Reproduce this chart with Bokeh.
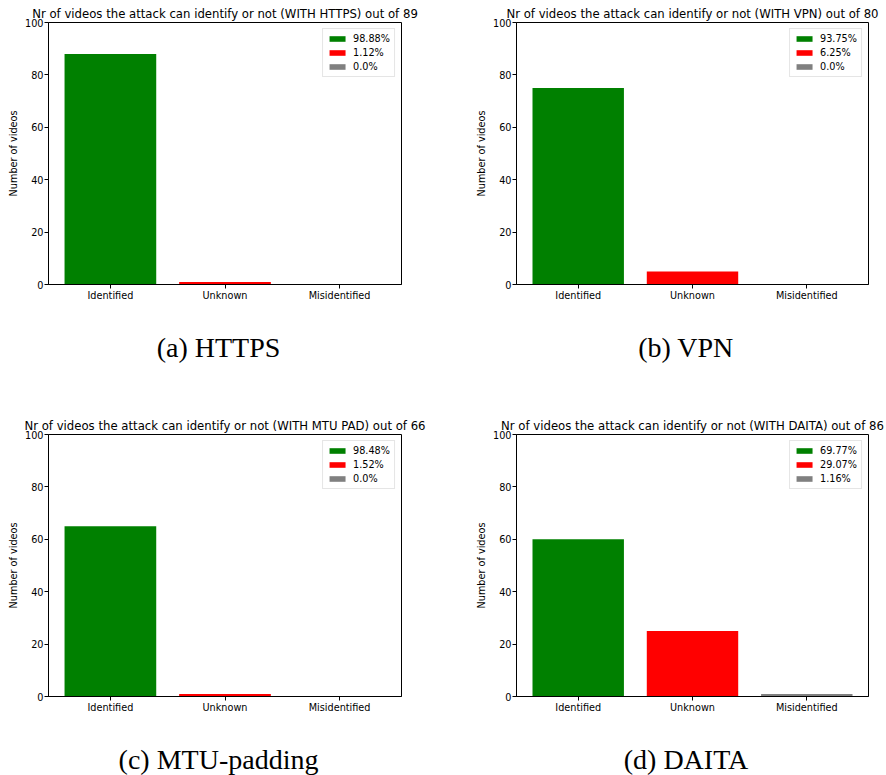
from bokeh.plotting import figure
from bokeh.layouts import column, row
from bokeh.models import Range1d, FixedTicker, Legend, LegendItem, Label, ColumnDataSource
from bokeh.embed import file_html
from bokeh.resources import INLINE

# ---- data ----
categories = ["Identified", "Unknown", "Misidentified"]
bar_colors = ["#008000", "#ff0000", "#808080"]
y_ticks = [0, 20, 40, 60, 80, 100]

https_counts = [88, 1, 0]
https_pcts = ["98.88%", "1.12%", "0.0%"]
vpn_counts = [75, 5, 0]
vpn_pcts = ["93.75%", "6.25%", "0.0%"]
mtu_counts = [65, 1, 0]
mtu_pcts = ["98.48%", "1.52%", "0.0%"]
daita_counts = [60, 25, 1]
daita_pcts = ["69.77%", "29.07%", "1.16%"]

totals = [89, 80, 66, 86]
setups = ["HTTPS", "VPN", "MTU PAD", "DAITA"]
captions = ["(a) HTTPS", "(b) VPN", "(c) MTU-padding", "(d) DAITA"]

SANS = "DejaVu Sans"
SERIF = "Liberation Serif"

W = 443          # width of each panel column
PLOT_H = 310     # height of each chart figure
BORDERS = [(48, 42), (73, 18)]   # (left, right) frame borders per column


def make(counts, pcts, total, setup, left, right):
    p = figure(width=W, height=PLOT_H,
               x_range=Range1d(-0.54, 2.54), y_range=Range1d(0, 100),
               output_backend="svg", toolbar_location=None,
               min_border_left=left, min_border_right=right,
               min_border_top=22, min_border_bottom=PLOT_H - 284)
    p.background_fill_color = "white"
    p.border_fill_color = "white"
    p.outline_line_color = "black"
    p.outline_line_width = 1
    p.xgrid.visible = False
    p.ygrid.visible = False

    p.title.text = f"Nr of videos the attack can identify or not (WITH {setup}) out of {total}"
    p.title.align = "center"
    p.title.text_font = SANS
    p.title.text_font_style = "normal"
    p.title.text_font_size = "11.7px"
    p.title.text_color = "black"
    p.title.standoff = 3

    xs = list(range(len(categories)))
    items = []
    for i, cat in enumerate(categories):
        src = ColumnDataSource(dict(x=[xs[i]], top=[counts[i]]))
        r = p.vbar(x="x", top="top", bottom=0, width=0.8, source=src,
                   fill_color=bar_colors[i], line_color=None)
        items.append(LegendItem(label=pcts[i], renderers=[r]))

    leg = Legend(items=items, location="top_right")
    leg.label_text_font = SANS
    leg.label_text_font_size = "9.7px"
    leg.label_text_color = "black"
    leg.label_height = 10
    leg.glyph_height = 7
    leg.glyph_width = 20
    leg.label_standoff = 6
    leg.spacing = 3
    leg.padding = 4
    leg.margin = 6
    leg.border_line_color = "#cccccc"
    leg.background_fill_alpha = 0.8
    p.add_layout(leg)

    for ax in (p.xaxis[0], p.yaxis[0]):
        ax.major_tick_out = 4
        ax.major_tick_in = 0
        ax.minor_tick_out = 0
        ax.minor_tick_in = 0
        ax.axis_line_color = "black"
        ax.major_tick_line_color = "black"
        ax.major_label_text_font = SANS
        ax.major_label_text_font_size = "9.7px"
        ax.major_label_text_color = "black"
        ax.major_label_standoff = 1

    p.xaxis.ticker = FixedTicker(ticks=xs)
    p.xaxis.major_label_overrides = {x: c for x, c in zip(xs, categories)}
    p.yaxis.ticker = FixedTicker(ticks=y_ticks)
    p.yaxis.axis_label = "Number of videos"
    p.yaxis.axis_label_text_font = SANS
    p.yaxis.axis_label_text_font_size = "9.7px"
    p.yaxis.axis_label_text_font_style = "normal"
    p.yaxis.axis_label_text_color = "black"
    p.yaxis.axis_label_standoff = 3
    return p


def caption_fig(text, left, right, height):
    # blank strip whose data space equals its pixel space (y measured from the top)
    c = figure(width=W, height=height, x_range=Range1d(0, W), y_range=Range1d(height, 0),
               output_backend="svg", toolbar_location=None,
               x_axis_location=None, y_axis_location=None, min_border=0)
    c.outline_line_color = None
    c.xgrid.visible = False
    c.ygrid.visible = False
    c.background_fill_color = "white"
    c.border_fill_color = "white"
    frame_center = left + (W - left - right) / 2
    c.add_layout(Label(x=frame_center - 6.5, y=37, text=text,
                       text_align="center", text_baseline="middle",
                       text_font=SERIF, text_font_size="28px", text_color="black"))
    return c


p1 = make(https_counts, https_pcts, totals[0], setups[0], *BORDERS[0])
p2 = make(vpn_counts, vpn_pcts, totals[1], setups[1], *BORDERS[1])
p3 = make(mtu_counts, mtu_pcts, totals[2], setups[2], *BORDERS[0])
p4 = make(daita_counts, daita_pcts, totals[3], setups[3], *BORDERS[1])

c1 = caption_fig(captions[0], *BORDERS[0], 102)
c2 = caption_fig(captions[1], *BORDERS[1], 102)
c3 = caption_fig(captions[2], *BORDERS[0], 53)
c4 = caption_fig(captions[3], *BORDERS[1], 53)

layout = column(row(p1, p2), row(c1, c2), row(p3, p4), row(c3, c4))
open("out.html", "w").write(file_html(layout, INLINE))
